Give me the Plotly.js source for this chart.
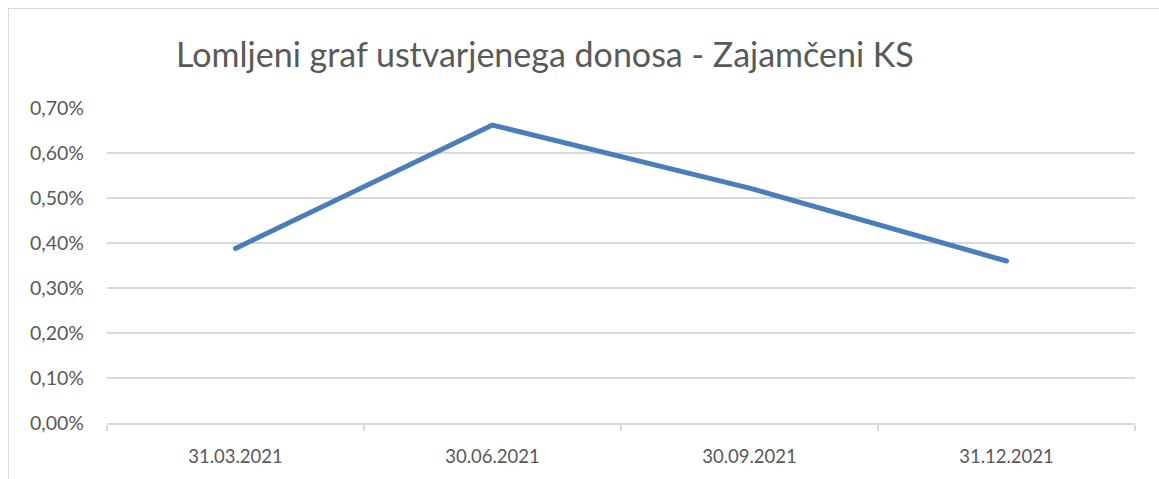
<!DOCTYPE html>
<html>
<head>
<meta charset="utf-8">
<script src="https://cdn.plot.ly/plotly-3.0.1.min.js"></script>
<style>
html,body{margin:0;padding:0;background:#fff;overflow:hidden;}
#frame{position:absolute;left:8px;top:8px;width:1200px;height:520px;border-top:1px solid #d9d9d9;border-left:1.5px solid #d9d9d9;pointer-events:none;}
#chart{position:absolute;left:0;top:0;width:1159px;height:479px;}
#chart path.js-line{stroke-linecap:round;stroke-linejoin:round;}
</style>
</head>
<body>
<div id="chart"></div>
<div id="frame"></div>
<script>
const categories = ["31.03.2021", "30.06.2021", "30.09.2021", "31.12.2021"];
const returns = [0.00388, 0.00662, 0.00522, 0.00360];
const titleText = "Lomljeni graf ustvarjenega donosa - Zajamčeni KS";

const font = "Lato, 'Open Sans', sans-serif";
const grey = "#595959";

Plotly.newPlot("chart", [{
  x: categories,
  y: returns,
  type: "scatter",
  mode: "lines",
  line: {color: "#4a7ebb", width: 5},
  hoverinfo: "skip"
}], {
  width: 1159,
  height: 479,
  paper_bgcolor: "rgba(0,0,0,0)",
  plot_bgcolor: "rgba(0,0,0,0)",
  separators: ", ",
  showlegend: false,
  margin: {l: 107, r: 24, t: 107.5, b: 56.3, pad: 0},
  title: {
    text: titleText,
    font: {family: font, size: 34, color: grey},
    xref: "paper", x: 0.426, xanchor: "center",
    yref: "container", y: 0.885, yanchor: "middle"
  },
  xaxis: {
    type: "category",
    range: [-0.5, 3.5],
    tickson: "boundaries",
    ticks: "outside",
    ticklen: 6,
    tickcolor: "#d9d9d9",
    tickwidth: 1.5,
    showline: true,
    linecolor: "#d9d9d9",
    linewidth: 1.5,
    showgrid: false,
    zeroline: false,
    tickfont: {family: font, size: 18.5, color: grey},
    ticklabelstandoff: 16,
    fixedrange: true
  },
  yaxis: {
    range: [0, 0.007],
    dtick: 0.001,
    tick0: 0,
    tickformat: ".2%",
    showgrid: true,
    gridcolor: "#d9d9d9",
    gridwidth: 1.5,
    zeroline: false,
    showline: false,
    ticks: "",
    tickfont: {family: font, size: 19.5, color: grey},
    ticklabelstandoff: 22,
    fixedrange: true
  }
}, {displayModeBar: false, staticPlot: true});
</script>
</body>
</html>
